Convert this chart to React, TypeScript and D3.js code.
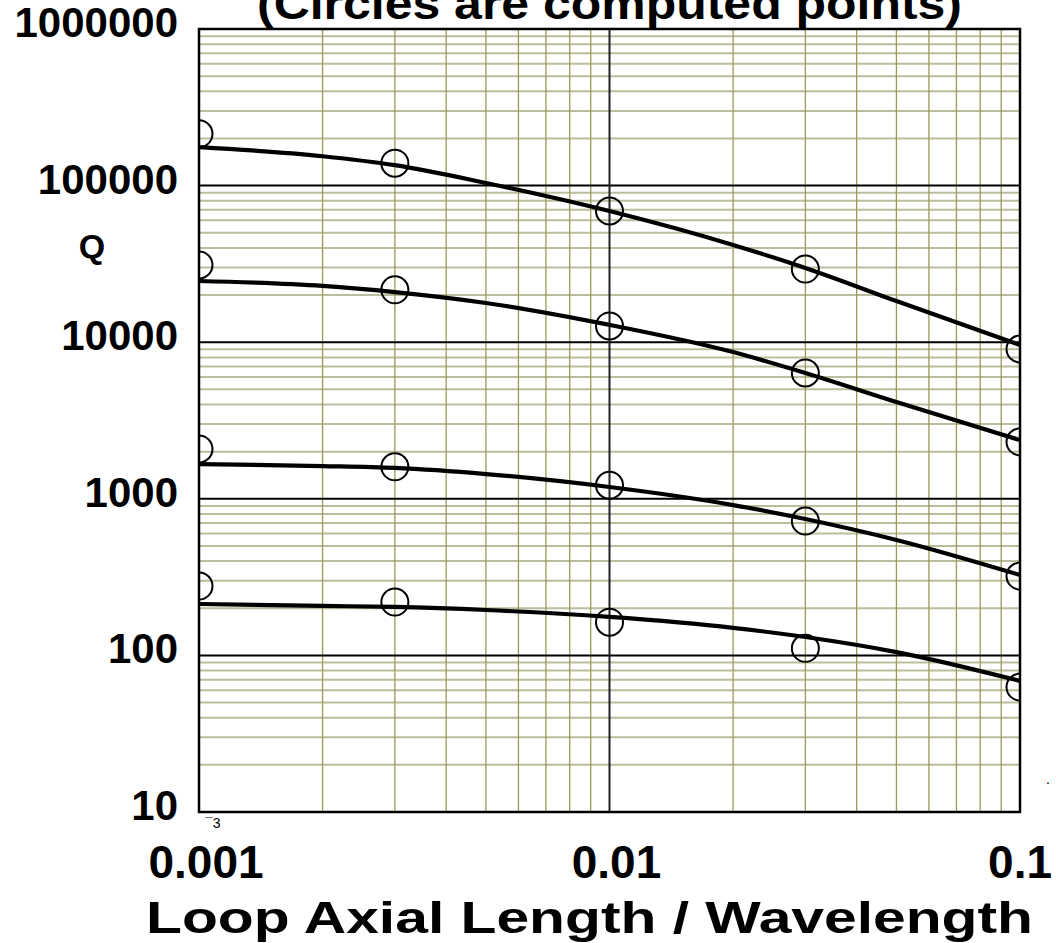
import * as d3 from "d3";

// axis ticks
const xTicks = [0.001, 0.01, 0.1];
const xTickLabels = ["0.001", "0.01", "0.1"];
const yTicks = [10, 100, 1000, 10000, 100000, 1000000];
const yTickLabels = ["10", "100", "1000", "10000", "100000", "1000000"];

// fitted curves (Q vs loop axial length / wavelength)
const curveX = [0.001, 0.002, 0.003, 0.005, 0.01, 0.02, 0.03, 0.05, 0.1];
const curve1 = [176000, 154000, 135000, 104000, 68800, 41800, 29800, 18300, 9600];
const curve2 = [24600, 22900, 20900, 17800, 12900, 8650, 6360, 4150, 2370];
const curve3 = [1667, 1619, 1574, 1439, 1189, 912, 743, 546, 326];
const curve4 = [213, 207, 204, 195, 176, 150, 131, 105, 68.7];

// computed points (circles)
const pointX = [0.001, 0.003, 0.01, 0.03, 0.1];
const points1 = [214000, 139000, 68800, 29300, 9050];
const points2 = [31100, 21600, 12700, 6360, 2310];
const points3 = [2080, 1600, 1220, 721, 321];
const points4 = [277, 219, 163, 111, 62.8];

const curves = [curve1, curve2, curve3, curve4];
const pointSets = [points1, points2, points3, points4];

const FONT = "'Liberation Sans', Arial, Helvetica, sans-serif";

export default function App() {
  const width = 1056, height = 943;
  const margin = {top: 29, right: 36, bottom: 131, left: 199};

  const x = d3.scaleLog().domain([0.001, 0.1]).range([margin.left, width - margin.right]);
  const y = d3.scaleLog().domain([10, 1000000]).range([height - margin.bottom, margin.top]);

  const x0 = margin.left, x1 = width - margin.right;
  const y0 = margin.top, y1 = height - margin.bottom;

  const isMajor = (v: number) => Math.abs(Math.log10(v) - Math.round(Math.log10(v))) < 1e-9;
  const yMinor = y.ticks().filter(v => !isMajor(v));
  const xMinor = x.ticks().filter(v => !isMajor(v));

  const line = d3.line<number>()
    .x((_, i) => x(curveX[i]))
    .y(d => y(d))
    .curve(d3.curveMonotoneX);

  return (
    <svg width={width} height={height} style={{position: "absolute", left: 0, top: 0, background: "#fff"}}
         fontFamily={FONT} fontWeight="bold">
      <defs>
        <clipPath id="plot">
          <rect x={x0} y={y0} width={x1 - x0} height={y1 - y0}/>
        </clipPath>
      </defs>

      {/* minor grid */}
      {yMinor.map((v, i) => (
        <line key={"hy" + i} x1={x0} x2={x1} y1={y(v)} y2={y(v)} stroke="#bdbd9d" strokeWidth={2}/>
      ))}
      {xMinor.map((v, i) => (
        <line key={"vx" + i} x1={x(v)} x2={x(v)} y1={y0} y2={y1} stroke="#9a9a55" strokeWidth={1.3}/>
      ))}

      {/* major grid */}
      {yTicks.map((v, i) => (
        <line key={"my" + i} x1={x0} x2={x1} y1={y(v)} y2={y(v)} stroke="#000" strokeWidth={2}/>
      ))}
      <line x1={x(0.01)} x2={x(0.01)} y1={y0} y2={y1} stroke="#222" strokeWidth={2}/>

      {/* curves and computed points */}
      <g clipPath="url(#plot)">
        {curves.map((c, i) => (
          <path key={"c" + i} d={line(c) || ""} fill="none" stroke="#000" strokeWidth={4.2}/>
        ))}
        {pointSets.map((ps, i) => ps.map((v, j) => (
          <circle key={"p" + i + "-" + j} cx={x(pointX[j])} cy={y(v)} r={13.5}
                  fill="none" stroke="#000" strokeWidth={2}/>
        )))}
      </g>

      {/* frame */}
      <rect x={x0} y={y0} width={x1 - x0} height={y1 - y0} fill="none" stroke="#000" strokeWidth={2.5}/>

      {/* y tick labels */}
      {yTicks.map((v, i) => (
        <text key={"yl" + i} x={x0 - 21} y={y(v) + 8} textAnchor="end" fontSize={42}>{yTickLabels[i]}</text>
      ))}
      <text x={92} y={258} textAnchor="middle" fontSize={34}>Q</text>

      {/* x tick labels */}
      {xTicks.map((v, i) => (
        <text key={"xl" + i} x={i === xTicks.length - 1 ? width - 4 : x(v) + 7} y={878}
              textAnchor={i === xTicks.length - 1 ? "end" : "middle"} fontSize={46}>{xTickLabels[i]}</text>
      ))}

      <text x={146} y={933} fontSize={44} textLength={887} lengthAdjust="spacingAndGlyphs">
        Loop Axial  Length / Wavelength
      </text>

      <text x={257} y={19} fontSize={44} textLength={705} lengthAdjust="spacingAndGlyphs">
        (Circles are computed points)
      </text>

      <text x={205} y={828} fontSize={14} fontWeight="normal">¯3</text>
      <text x={1046} y={784} fontSize={14} fontWeight="normal">.</text>
    </svg>
  );
}
